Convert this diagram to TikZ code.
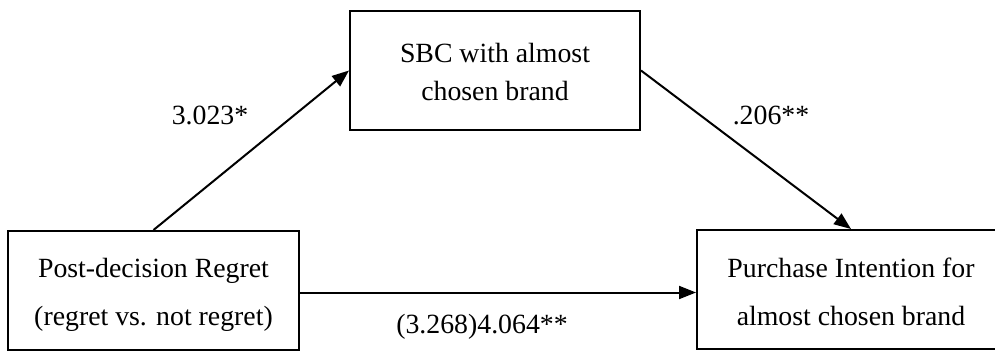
\documentclass[tikz,border=0pt]{standalone}
\usepackage{fontspec}
\setmainfont{Liberation Serif}
\usetikzlibrary{arrows.meta}
\begin{document}
\begin{tikzpicture}[x=1pt,y=-1pt,
  box/.style={draw,line width=2pt,rectangle,inner sep=0pt,align=center,
    font=\fontsize{27.8}{48}\selectfont},
  lab/.style={inner sep=0pt,font=\fontsize{27.8}{33}\selectfont},
  conn/.style={line width=2pt,-{Triangle[length=17pt,width=13pt]}}]
\useasboundingbox (0,0) rectangle (995,351);
\clip (0,0) rectangle (995,351);
\node[box,minimum width=290pt,minimum height=119pt,text height=59pt,text depth=0pt,
  font=\fontsize{27.8}{38}\selectfont] (T) at (495,70.5)
  {SBC with almost\\chosen brand};
\node[box,minimum width=291pt,minimum height=119pt,text height=69pt,text depth=0pt] (L) at (153.5,290.5)
  {Post-decision Regret\\(regret vs. not regret)};
\node[box,minimum width=308pt,minimum height=119pt,text height=71pt,text depth=0pt] (R) at (851,289.5)
  {Purchase Intention for\\almost chosen brand};
\draw[conn] (L.north) -- (T.west);
\draw[conn] (T.east) -- (R.north);
\draw[conn] ([yshift=-2pt]L.east) -- ([yshift=-2pt]L.east -| R.west);
\node[lab] (a) at (210,115) {3.023*};
\node[lab] (b) at (771,115) {.206**};
\node[lab] (c) at (482,327) {(3.268)4.064**};
\end{tikzpicture}
\end{document}
